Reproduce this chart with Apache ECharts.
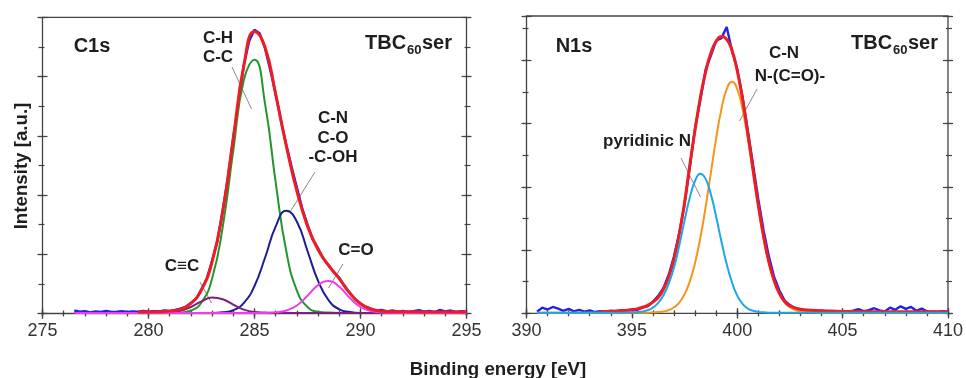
<!DOCTYPE html>
<html>
<head>
<meta charset="utf-8">
<script src="https://cdn.jsdelivr.net/npm/echarts@6/dist/echarts.min.js"></script>
<style>
  html, body { margin: 0; padding: 0; background: #fff; }
  #chart { width: 966px; height: 378px; }
</style>
</head>
<body>
<div id="chart"></div>
<script>
// ---------- C1s panel ----------
// binding energies where the fitted curves were read
const c1sFitE = [276.5, 278, 279.5, 280.5, 281, 281.5, 282, 282.5, 283, 283.5, 284, 284.5, 285, 285.5,
  286, 286.5, 287, 287.5, 288, 288.5, 289, 289.5, 290, 290.5, 291, 292, 293.5, 295];
const c1sEnvelope = ['-', '-', 0.05, 0.06, 0.08, 0.14, 0.34, 0.80, 1.74, 3.44, 5.92, 8.38, 9.52, 8.98,
  7.39, 5.66, 4.13, 2.95, 2.15, 1.62, 1.18, 0.68, 0.33, 0.15, 0.08, 0.06, 0.05, 0.05];
const c1sCH = [0.02, 0.02, 0.02, 0.02, 0.02, 0.03, 0.10, 0.37, 1.18, 2.92, 5.51, 7.89, 8.57, 7.07,
  4.42, 2.10, 0.77, 0.22, 0.06, 0.03, 0.02, 0.02, 0.02, 0.02, 0.02, 0.02, 0.02, 0.02];
const c1sCN = [0.02, 0.02, 0.02, 0.02, 0.02, 0.02, 0.02, 0.02, 0.02, 0.04, 0.11, 0.36, 0.93, 1.89,
  2.94, 3.47, 3.10, 2.11, 1.10, 0.44, 0.14, 0.05, 0.02, 0.02, 0.02, 0.02, 0.02, 0.02];
const c1sCO = [0.02, 0.02, 0.02, 0.02, 0.02, 0.02, 0.02, 0.02, 0.02, 0.02, 0.02, 0.02, 0.02, 0.02,
  0.04, 0.10, 0.27, 0.60, 0.96, 1.10, 0.90, 0.52, 0.22, 0.08, 0.03, 0.02, 0.02, 0.02];
const c1sCC = [0.02, 0.02, 0.02, 0.02, 0.04, 0.09, 0.22, 0.41, 0.54, 0.48, 0.30, 0.13, 0.05, 0.03,
  0.02, 0.02, 0.02, 0.02, 0.02, 0.02, 0.02, 0.02, 0.02, 0.02, 0.02, 0.02, 0.02, 0.02];
// measured spectrum
const c1sDataE = [276.5, 276.75, 277, 277.25, 277.5, 277.75, 278, 278.25, 278.5, 278.75, 279, 279.25,
  279.5, 279.75, 280, 280.25, 280.5, 280.75, 281, 281.25, 281.5, 281.75, 282, 282.25, 282.5, 282.75,
  283, 283.25, 283.5, 283.75, 284, 284.25, 284.5, 284.75, 285, 285.25, 285.5, 285.75, 286, 286.25,
  286.5, 286.75, 287, 287.25, 287.5, 287.75, 288, 288.25, 288.5, 288.75, 289, 289.25, 289.5, 289.75,
  290, 290.25, 290.5, 290.75, 291, 291.25, 291.5, 291.75, 292, 292.25, 292.5, 292.75, 293, 293.25,
  293.5, 293.75, 294, 294.25, 294.5, 294.75, 295];
const c1sData = [0.10, 0.06, 0.08, 0.04, 0.07, 0.05, 0.09, 0.05, 0.06, 0.08, 0.05, 0.07,
  0.06, 0.09, 0.06, 0.08, 0.07, 0.10, 0.09, 0.12, 0.16, 0.22, 0.36, 0.50, 0.82, 1.18,
  1.78, 2.45, 3.48, 4.60, 5.95, 7.15, 8.40, 9.20, 9.58, 9.45, 8.95, 8.20, 7.42, 6.50,
  5.70, 4.95, 4.25, 3.55, 3.00, 2.50, 2.20, 1.85, 1.62, 1.38, 1.20, 0.92, 0.70, 0.48,
  0.34, 0.22, 0.16, 0.10, 0.12, 0.07, 0.10, 0.06, 0.09, 0.05, 0.08, 0.11, 0.06, 0.09,
  0.05, 0.12, 0.07, 0.10, 0.05, 0.08, 0.06];

// ---------- N1s panel ----------
const n1sFitE = [390.5, 392, 393.5, 394, 394.5, 395, 395.25, 395.5, 395.75, 396, 396.25, 396.5, 396.75,
  397, 397.25, 397.5, 397.75, 398, 398.25, 398.5, 398.75, 399, 399.25, 399.5, 399.75, 400, 400.25,
  400.5, 400.75, 401, 401.25, 401.5, 401.75, 402, 402.25, 402.5, 402.75, 403, 403.5, 404, 404.5, 405,
  406.5, 408, 410];
const n1sEnvelope = ['-', '-', 0.05, 0.06, 0.08, 0.11, 0.14, 0.19, 0.25, 0.36, 0.50, 0.76, 1.15,
  1.72, 2.51, 3.50, 4.69, 5.81, 6.82, 7.63, 8.23, 8.60, 8.75, 8.66, 8.32, 7.67, 6.78,
  5.70, 4.54, 3.42, 2.43, 1.63, 1.04, 0.63, 0.37, 0.24, 0.17, 0.13, 0.10, 0.08, 0.07, 0.06,
  0.05, 0.05, 0.05];
const n1sPyridinic = [0.02, 0.02, 0.02, 0.02, 0.02, 0.03, 0.04, 0.06, 0.10, 0.18, 0.33, 0.57, 0.94,
  1.45, 2.15, 2.93, 3.66, 4.19, 4.41, 4.25, 3.76, 3.05, 2.27, 1.55, 0.98, 0.56, 0.30,
  0.15, 0.08, 0.04, 0.03, 0.02, 0.02, 0.02, 0.02, 0.02, 0.02, 0.02, 0.02, 0.02, 0.02, 0.02,
  0.02, 0.02, 0.02];
const n1sCN = [0.02, 0.02, 0.02, 0.02, 0.02, 0.02, 0.02, 0.02, 0.02, 0.03, 0.04, 0.06, 0.10,
  0.19, 0.34, 0.60, 1.01, 1.60, 2.39, 3.36, 4.45, 5.53, 6.46, 7.09, 7.32, 7.09, 6.46,
  5.53, 4.45, 3.36, 2.39, 1.60, 1.01, 0.60, 0.34, 0.19, 0.10, 0.06, 0.03, 0.02, 0.02, 0.02,
  0.02, 0.02, 0.02];
const n1sDataE = [390.5, 390.75, 391, 391.25, 391.5, 391.75, 392, 392.25, 392.5, 392.75, 393, 393.25,
  393.5, 393.75, 394, 394.25, 394.5, 394.75, 395, 395.25, 395.5, 395.75, 396, 396.25, 396.5, 396.75,
  397, 397.25, 397.5, 397.75, 398, 398.25, 398.5, 398.75, 399, 399.25, 399.5, 399.75, 400, 400.25,
  400.5, 400.75, 401, 401.25, 401.5, 401.75, 402, 402.25, 402.5, 402.75, 403, 403.25, 403.5, 403.75,
  404, 404.25, 404.5, 404.75, 405, 405.25, 405.5, 405.75, 406, 406.25, 406.5, 406.75, 407, 407.25,
  407.5, 407.75, 408, 408.25, 408.5, 408.75, 409, 409.25, 409.5, 409.75, 410];
const n1sData = [0.05, 0.18, 0.12, 0.20, 0.15, 0.08, 0.14, 0.06, 0.11, 0.05, 0.09, 0.04,
  0.07, 0.05, 0.08, 0.06, 0.10, 0.09, 0.12, 0.11, 0.18, 0.22, 0.36, 0.55, 0.80, 1.22,
  1.80, 2.55, 3.45, 4.62, 5.85, 6.75, 7.70, 8.15, 8.62, 8.70, 9.05, 8.30, 7.72, 6.85,
  5.78, 4.70, 3.60, 2.62, 1.80, 1.15, 0.72, 0.40, 0.26, 0.15, 0.12, 0.08, 0.10, 0.06,
  0.08, 0.05, 0.07, 0.04, 0.06, 0.05, 0.08, 0.13, 0.07, 0.10, 0.16, 0.09, 0.06, 0.18,
  0.11, 0.22, 0.14, 0.20, 0.08, 0.15, 0.06, 0.05, 0.04, 0.07, 0.05];

const FONT = '"Liberation Sans", Arial, Helvetica, sans-serif';
const AX = '#444';

const chart = echarts.init(document.getElementById('chart'));

const panels = [
  { left: 42.5, top: 17.3, width: 424, height: 296.2, xMin: 275, xMax: 295, yMax: 10 },
  { left: 526.5, top: 16, width: 423.5, height: 297.3, xMin: 390, xMax: 410, yMax: 9.4 },
];

const grids = [];
const xAxes = [];
const yAxes = [];
const mainX = [];
const mainY = [];

panels.forEach((p, gi) => {
  grids.push({
    left: p.left, top: p.top, width: p.width, height: p.height,
    show: true, borderColor: AX, borderWidth: 1.3, backgroundColor: 'transparent',
  });
  // axes the series are bound to (labels only on the bottom one)
  mainX.push(xAxes.length);
  xAxes.push({
    gridIndex: gi, type: 'value', position: 'bottom', min: p.xMin, max: p.xMax, interval: 5,
    axisLine: { show: false }, axisTick: { show: false }, splitLine: { show: false },
    axisLabel: { show: true, margin: 9, color: '#333', fontSize: 18, fontFamily: FONT },
  });
  mainY.push(yAxes.length);
  yAxes.push({
    gridIndex: gi, type: 'value', position: 'left', min: 0, max: p.yMax, interval: 2,
    axisLine: { show: false }, axisTick: { show: false }, splitLine: { show: false },
    axisLabel: { show: false },
  });
  // tick-only axes: ticks cross the frame, longer at major steps
  ['bottom', 'top'].forEach(pos => {
    [[5, 5, 5], [1, 3, 2]].forEach(([interval, outLen, inLen]) => {
      [false, true].forEach(inside => {
        xAxes.push({
          gridIndex: gi, type: 'value', position: pos, min: p.xMin, max: p.xMax, interval,
          axisLine: { show: false }, splitLine: { show: false }, axisLabel: { show: false },
          axisTick: { show: true, inside, length: inside ? inLen : outLen, lineStyle: { color: AX, width: 1.2 } },
        });
      });
    });
  });
  ['left', 'right'].forEach(pos => {
    [[2, 5, 5], [1, 4, 2]].forEach(([interval, outLen, inLen]) => {
      [false, true].forEach(inside => {
        yAxes.push({
          gridIndex: gi, type: 'value', position: pos, min: 0, max: p.yMax, interval,
          axisLine: { show: false }, splitLine: { show: false }, axisLabel: { show: false },
          axisTick: { show: true, inside, length: inside ? inLen : outLen, lineStyle: { color: AX, width: 1.2 } },
        });
      });
    });
  });
});

function pairs(es, vs) {
  return es.map((e, i) => [e, vs[i]]);
}

function curve(gi, name, es, vs, color, width, smooth) {
  return {
    name, type: 'line', xAxisIndex: mainX[gi], yAxisIndex: mainY[gi],
    data: pairs(es, vs), showSymbol: false, symbol: 'none', smooth,
    lineStyle: { color, width }, silent: true, connectNulls: false,
  };
}

const series = [
  curve(0, 'C1s data', c1sDataE, c1sData, '#2222e6', 2.4, false),
  curve(0, 'C-H / C-C', c1sFitE, c1sCH, '#22962a', 2, true),
  curve(0, 'C-N / C-O / -C-OH', c1sFitE, c1sCN, '#1c1c96', 2, true),
  curve(0, 'C≡C', c1sFitE, c1sCC, '#7e1f80', 2, true),
  curve(0, 'C=O', c1sFitE, c1sCO, '#f03ce8', 2, true),
  curve(0, 'C1s envelope', c1sFitE, c1sEnvelope, '#ee1d24', 3, true),
  curve(1, 'N1s data', n1sDataE, n1sData, '#2222e6', 2.4, false),
  curve(1, 'C-N / N-(C=O)-', n1sFitE, n1sCN, '#f7941d', 2, true),
  curve(1, 'N1s envelope', n1sFitE, n1sEnvelope, '#ee1d24', 3, true),
  curve(1, 'pyridinic N', n1sFitE, n1sPyridinic, '#1ea6e6', 2, true),
];

function txt(text, x, y, size, opts) {
  return Object.assign({
    type: 'text', x, y, silent: true,
    style: {
      text, font: 'bold ' + size + 'px ' + FONT, fill: '#1e1e1e',
      align: 'center', verticalAlign: 'middle', textAlign: 'center', textVerticalAlign: 'middle',
    },
  }, opts || {});
}
function lead(x1, y1, x2, y2) {
  return { type: 'line', silent: true, shape: { x1, y1, x2, y2 }, style: { stroke: '#8a8a8a', lineWidth: 1 } };
}
function sampleName(x, y) {
  // TBC60ser with subscript 60
  return [
    txt('TBC', x, y, 20, { style: { text: 'TBC', font: 'bold 20px ' + FONT, fill: '#1e1e1e', align: 'left', verticalAlign: 'middle', textAlign: 'left', textVerticalAlign: 'middle' } }),
    txt('60', x + 42, y + 7, 13, { style: { text: '60', font: 'bold 13px ' + FONT, fill: '#1e1e1e', align: 'left', verticalAlign: 'middle', textAlign: 'left', textVerticalAlign: 'middle' } }),
    txt('ser', x + 57, y, 20, { style: { text: 'ser', font: 'bold 20px ' + FONT, fill: '#1e1e1e', align: 'left', verticalAlign: 'middle', textAlign: 'left', textVerticalAlign: 'middle' } }),
  ];
}

const graphic = [
  txt('C1s', 92, 46, 20),
  txt('N1s', 574, 46, 20),
  ...sampleName(365, 43),
  ...sampleName(851, 43),
  txt('C-H', 218, 38.5, 17),
  txt('C-C', 218, 57.5, 17),
  lead(232, 67, 251.5, 109),
  txt('C-N', 333, 118.5, 17),
  txt('C-O', 333, 138, 17),
  txt('-C-OH', 333, 157.5, 17),
  lead(315, 172, 290, 212),
  txt('C\u2261C', 182, 266.5, 17),
  lead(200, 282, 211.5, 303),
  txt('C=O', 356, 250.5, 17),
  lead(343, 264, 328.5, 288),
  txt('pyridinic N', 647, 141.5, 17),
  lead(681, 158, 700.5, 197),
  txt('C-N', 784, 53.5, 17),
  txt('N-(C=O)-', 790, 76, 17),
  lead(757, 89, 739.5, 121),
  txt('Binding energy [eV]', 498, 370, 18.7),
  txt('Intensity [a.u.]', 21.5, 166, 18.7, { rotation: Math.PI / 2 }),
];

chart.setOption({
  animation: false,
  backgroundColor: '#fff',
  grid: grids,
  xAxis: xAxes,
  yAxis: yAxes,
  series,
  graphic,
});
</script>
</body>
</html>
